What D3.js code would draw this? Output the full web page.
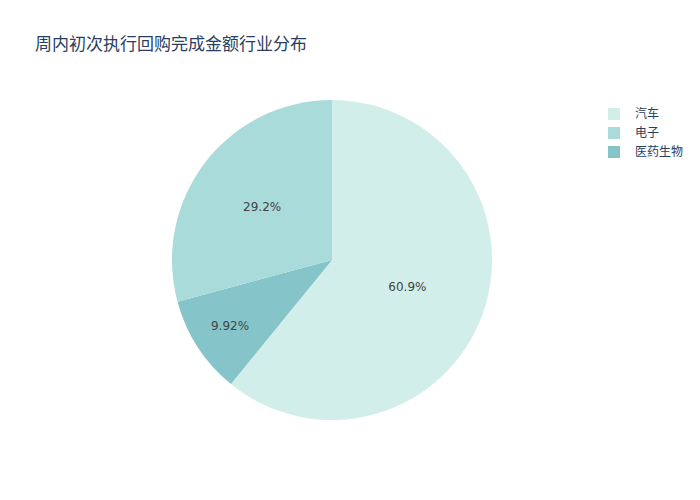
<!DOCTYPE html>
<html>
<head>
<meta charset="utf-8">
<script src="https://cdn.jsdelivr.net/npm/d3@7"></script>
<style>
  body { margin: 0; background: #fff; }
  svg text { font-family: "Noto Sans CJK SC", "Noto Sans", sans-serif; }
</style>
</head>
<body>
<div id="chart"></div>
<script>
// Slice data, in drawing order (clockwise from 12 o'clock)
const sliceNames = ["汽车", "医药生物", "电子"];
const sliceValues = [60.88, 9.92, 29.2];
const sliceLabels = ["60.9%", "9.92%", "29.2%"];

// Legend order
const legendNames = ["汽车", "电子", "医药生物"];

const colorOf = {
    "汽车": "#d1eeea",
    "电子": "#a8dbd9",
    "医药生物": "#85c4c9"
};

const width = 700;
const height = 500;
const cx = 332;
const cy = 260;
const radius = 160;

const svg = d3.select("#chart")
    .append("svg")
    .attr("width", width)
    .attr("height", height);

// Title
svg.append("text")
    .attr("x", 35)
    .attr("y", 50)
    .attr("fill", "#2a3f5f")
    .style("font-size", "17px")
    .text("周内初次执行回购完成金额行业分布");

const pie = d3.pie().sort(null).value(d => d.value);
const arc = d3.arc().innerRadius(0).outerRadius(radius);

const slices = pie(sliceNames.map((name, i) => ({ name, value: sliceValues[i], label: sliceLabels[i] })));

const g = svg.append("g").attr("transform", `translate(${cx},${cy})`);

g.selectAll("path")
    .data(slices)
    .enter()
    .append("path")
    .attr("d", arc)
    .attr("fill", d => colorOf[d.data.name]);

// Labels: small slices get pushed further out so the text fits
const total = d3.sum(sliceValues);
g.selectAll("text.pct")
    .data(slices)
    .enter()
    .append("text")
    .attr("class", "pct")
    .each(function (d) {
        const frac = d.data.value / total;
        const k = frac > 0.5 ? 0.5 : frac > 0.2 ? 0.55 : 0.76;
        const a = (d.startAngle + d.endAngle) / 2;
        d3.select(this)
            .attr("x", Math.sin(a) * radius * k)
            .attr("y", -Math.cos(a) * radius * k);
    })
    .attr("text-anchor", "middle")
    .attr("dy", "0.35em")
    .attr("fill", "#444")
    .style("font-family", "'DejaVu Sans', sans-serif")
    .style("font-size", "12px")
    .text(d => d.data.label);

// Legend
const legend = svg.append("g").attr("transform", "translate(608,108)");
const rows = legend.selectAll("g")
    .data(legendNames)
    .enter()
    .append("g")
    .attr("transform", (d, i) => `translate(0,${i * 19})`);

rows.append("rect")
    .attr("width", 12)
    .attr("height", 12)
    .attr("fill", d => colorOf[d]);

rows.append("text")
    .attr("x", 27)
    .attr("y", 6)
    .attr("dy", "0.35em")
    .attr("fill", "#2a3f5f")
    .style("font-size", "12px")
    .text(d => d);
</script>
</body>
</html>
